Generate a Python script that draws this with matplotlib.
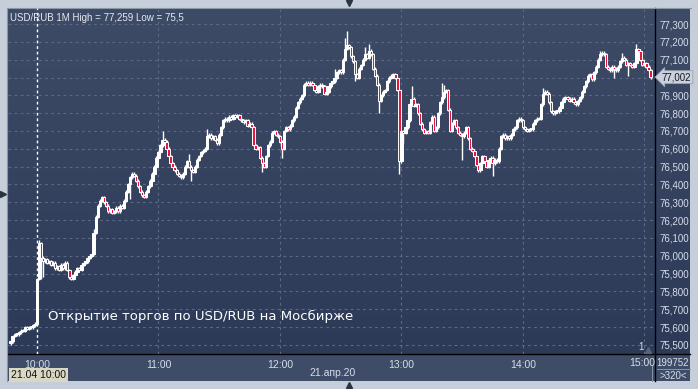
import numpy as np
import matplotlib
matplotlib.use("Agg")
import matplotlib.pyplot as plt
from matplotlib.colors import LinearSegmentedColormap
from matplotlib.ticker import MultipleLocator, FuncFormatter
from matplotlib.lines import Line2D

plt.rcParams["font.family"] = ["Liberation Sans", "DejaVu Sans"]

# USD/RUB 1-minute closes, starting 09:47 (13 bars before the 10:00 open)
close = [75.52, 75.55, 75.56, 75.56, 75.57, 75.58, 75.58, 75.60, 75.59, 75.60, 75.60, 75.61, 75.62,
         75.87, 76.07, 75.99, 75.97, 75.98, 75.96, 75.97, 75.95, 75.96, 75.93,
         75.94, 75.92, 75.95, 75.93, 75.96, 75.92, 75.88, 75.87, 75.89, 75.91,
         75.93, 75.92, 75.95, 75.96, 75.97, 75.99, 76.00, 76.01, 76.13, 76.22,
         76.28, 76.31, 76.33, 76.30, 76.28, 76.25, 76.26, 76.24, 76.25, 76.27,
         76.25, 76.28, 76.27, 76.31, 76.36, 76.40, 76.44, 76.46, 76.45, 76.42,
         76.39, 76.36, 76.34, 76.33, 76.36, 76.39, 76.42, 76.46, 76.50, 76.55,
         76.58, 76.62, 76.65, 76.64, 76.60, 76.56, 76.52, 76.50, 76.48, 76.46,
         76.45, 76.44, 76.46, 76.50, 76.53, 76.50, 76.48, 76.47, 76.50, 76.54,
         76.56, 76.58, 76.59, 76.60, 76.67, 76.68, 76.66, 76.67, 76.65, 76.63,
         76.68, 76.72, 76.76, 76.77, 76.76, 76.78, 76.77, 76.79, 76.78, 76.79,
         76.77, 76.76, 76.75, 76.76, 76.73, 76.74, 76.72, 76.62, 76.60, 76.61,
         76.55, 76.52, 76.50, 76.56, 76.62, 76.64, 76.69, 76.70, 76.68, 76.67,
         76.64, 76.60, 76.70, 76.72, 76.71, 76.73, 76.76, 76.78, 76.83, 76.86,
         76.88, 76.90, 76.96, 76.97, 76.96, 76.97, 76.96, 76.93, 76.92, 76.95,
         76.96, 76.95, 76.91, 76.92, 76.95, 76.97, 76.98, 77.00, 77.03, 77.04,
         77.03, 77.10, 77.16, 77.18, 77.17, 77.12, 77.09, 77.02, 77.00, 77.05,
         77.07, 77.10, 77.13, 77.11, 77.15, 77.13, 77.05, 77.01, 76.96, 76.87,
         76.90, 76.92, 76.93, 76.98, 77.00, 77.01, 77.02, 77.00, 76.93, 76.53,
         76.70, 76.69, 76.72, 76.76, 76.85, 76.88, 76.84, 76.85, 76.80, 76.74,
         76.71, 76.69, 76.70, 76.69, 76.75, 76.78, 76.70, 76.72, 76.80, 76.86,
         76.89, 76.92, 76.93, 76.82, 76.70, 76.74, 76.76, 76.72, 76.69, 76.68,
         76.67, 76.69, 76.72, 76.66, 76.60, 76.59, 76.56, 76.51, 76.48, 76.52,
         76.56, 76.53, 76.50, 76.54, 76.55, 76.52, 76.54, 76.53, 76.60, 76.67,
         76.68, 76.66, 76.67, 76.66, 76.68, 76.71, 76.72, 76.76, 76.77, 76.76,
         76.72, 76.71, 76.70, 76.71, 76.71, 76.74, 76.76, 76.77, 76.77, 76.85,
         76.91, 76.92, 76.91, 76.86, 76.81, 76.80, 76.81, 76.81, 76.83, 76.86,
         76.88, 76.89, 76.88, 76.87, 76.88, 76.86, 76.85, 76.87, 76.89, 76.92,
         76.95, 76.98, 77.01, 77.02, 76.99, 77.03, 77.06, 77.10, 77.13, 77.14,
         77.13, 77.06, 77.05, 77.04, 77.06, 77.05, 77.04, 77.06, 77.09, 77.11,
         77.10, 77.07, 77.08, 77.07, 77.06, 77.08, 77.16, 77.15, 77.10, 77.07,
         77.08, 77.06, 77.04, 77.002]
first_open = 75.51

# long wicks (minute from 10:00 -> price)
high_spikes = {1: 76.09, 28: 76.15, 62: 76.70, 75: 76.57, 84: 76.71, 147: 77.05,
               152: 77.22, 153: 77.259, 162: 77.17, 164: 77.19, 185: 76.95,
               200: 76.97, 201: 76.96, 250: 76.94, 278: 77.15, 289: 77.14, 296: 77.19}
low_spikes = {-13: 75.50, 2: 75.87, 3: 75.88, 46: 76.32, 76: 76.42, 111: 76.47,
              121: 76.55, 157: 76.98, 169: 76.80, 179: 76.46, 181: 76.63,
              210: 76.54, 219: 76.47, 225: 76.45, 285: 77.00, 292: 77.01}

hour_labels = ["10:00", "11:00", "12:00", "13:00", "14:00", "15:00"]
hour_minutes = [0, 60, 120, 180, 240, 300]
last_price = 77.002

close = np.array(close)
minutes = np.arange(-13, -13 + len(close))
opens = np.concatenate([[first_open], close[:-1]])
highs = np.maximum(opens, close) + 0.008
lows = np.minimum(opens, close) - 0.008
for m, v in high_spikes.items():
    highs[m + 13] = v
for m, v in low_spikes.items():
    lows[m + 13] = v

W, H = 698, 389
def fx(x): return x / W
def fy(y): return 1 - y / H

txt_c = "#d6deea"
fig = plt.figure(figsize=(6.98, 3.89), dpi=100)
fig.patch.set_facecolor("#c6ced9")

# background panels
bg = fig.add_axes([fx(8), fy(354), fx(682), (354 - 8) / H], zorder=0)
cmap = LinearSegmentedColormap.from_list("bg", ["#3e4b66", "#2c3a58"])
bg.imshow(np.linspace(0, 1, 256).reshape(-1, 1), cmap=cmap, aspect="auto",
          extent=[0, 1, 0, 1])
bg.set_axis_off()
band = fig.add_axes([fx(8), fy(381), fx(682), 27 / H], zorder=0)
band.set_facecolor("#3e4c68")
band.set_xticks([]); band.set_yticks([])
for s in band.spines.values():
    s.set_visible(False)

ax = fig.add_axes([fx(8), fy(354), fx(647), (354 - 8) / H], zorder=2)
ax.set_facecolor("none")
ax.set_xlim(-14.3, 305.2)
ax.set_ylim(75.449, 77.39)

grid_c = "#5b6984"
ax.yaxis.set_major_locator(MultipleLocator(0.1))
for yv in ax.get_yticks():
    if 75.449 < yv < 77.39:
        ax.axhline(yv, color=grid_c, lw=0.8, dashes=(2.5, 3), zorder=1)
for m in hour_minutes[1:]:
    ax.axvline(m, color=grid_c, lw=0.8, dashes=(2.5, 3), zorder=1)
ax.axvline(0, color="white", lw=1.0, dashes=(2, 2), zorder=1)

# candles
up = close >= opens
ax.vlines(minutes, lows, highs, color="white", lw=1.0, zorder=3)
body_b = np.minimum(opens, close)
body_h = np.maximum(np.abs(close - opens), 0.005)
ax.bar(minutes, body_h, bottom=body_b, width=1.15,
       color=np.where(up, "white", "#e8163f"), edgecolor="white",
       linewidth=0.7, zorder=4)

for s in ax.spines.values():
    s.set_visible(False)
ax.yaxis.tick_right()
def yfmt(v, p):
    if abs(v - last_price) < 0.03:
        return ""
    return f"{v:.3f}".replace(".", ",")
ax.yaxis.set_major_formatter(FuncFormatter(yfmt))
ax.tick_params(axis="y", length=0, pad=3, labelsize=7, labelcolor=txt_c)
ax.set_xticks(hour_minutes[:-1])
ax.set_xticklabels(hour_labels[:-1])
ax.tick_params(axis="x", length=0, pad=4, labelsize=7.5, labelcolor=txt_c)
ax.text(1.0, -0.012, hour_labels[-1], transform=ax.transAxes, ha="right", va="top",
        fontsize=7.5, color=txt_c)

ax.text(0.003, 0.985, "USD/RUB 1M High = 77,259 Low = 75,5", transform=ax.transAxes,
        ha="left", va="top", fontsize=7, color="#e4eaf2", zorder=5)
ax.text(5.4, 75.66, "Открытие торгов по USD/RUB на Мосбирже", ha="left", va="center",
        fontsize=9.5, color="white", family="DejaVu Sans", zorder=5)

# last price tag
ax.annotate(f"{last_price:.3f}".replace(".", ","), xy=(1.0, last_price),
            xycoords=("axes fraction", "data"), xytext=(5, 0),
            textcoords="offset points", ha="left", va="center", fontsize=7,
            color="#1a1a1a", annotation_clip=False, zorder=6,
            bbox=dict(boxstyle="larrow,pad=0.15", fc="#c9d1dc", ec="#9aa3b0", lw=0.6))

# frame lines
fig.add_artist(Line2D([fx(655), fx(655)], [fy(8), fy(381)], color="black", lw=1))
fig.add_artist(Line2D([fx(8), fx(690)], [fy(354), fy(354)], color="black", lw=1))
fig.add_artist(Line2D([fx(651.5), fx(651.5)], [fy(366), fy(381)], color="#8a94a6", lw=0.7))
fig.add_artist(Line2D([fx(657), fx(690)], [fy(369), fy(369)], color="#8a94a6", lw=0.7))
fig.add_artist(Line2D([fx(7.5), fx(7.5), fx(690.5)], [fy(381), fy(7.5), fy(7.5)],
                      color="#8d96a4", lw=0.8))

fig.text(fx(673), fy(363), "199752", ha="center", va="center", fontsize=7, color=txt_c)
fig.text(fx(673), fy(376), ">320<", ha="center", va="center", fontsize=7, color=txt_c)
fig.text(fx(333), fy(373), "21.апр.20", ha="center", va="center", fontsize=7.5, color=txt_c)
fig.text(fx(11), fy(375), "21.04 10:00", ha="left", va="center", fontsize=7.5, color="#111111",
         bbox=dict(boxstyle="square,pad=0.2", fc="#d8d8c4", ec="none"))
fig.text(fx(641), fy(347), "1", ha="center", va="center", fontsize=7, color=txt_c)
fig.add_artist(Line2D([fx(648)], [fy(350)], marker="^", ms=4, color="#56637c"))

# little arrows on the frame
fig.add_artist(Line2D([fx(349)], [fy(3)], marker="v", ms=5, color="#2a3340"))
fig.add_artist(Line2D([fx(349)], [fy(385)], marker="^", ms=5, color="#2a3340"))
fig.add_artist(Line2D([fx(3)], [fy(194)], marker=">", ms=5, color="#2a3340"))

fig.savefig("out.png", dpi=100, facecolor=fig.get_facecolor())
